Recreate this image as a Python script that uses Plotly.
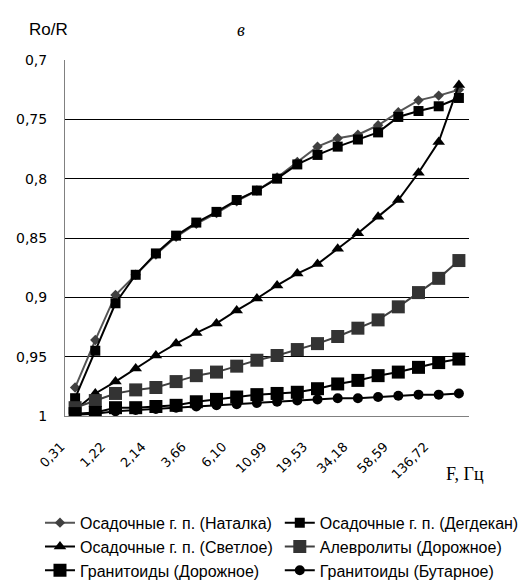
import plotly.graph_objects as go

freqs = ["0,31", "0,61", "1,22", "1,53", "2,14", "2,75", "3,66", "4,88", "6,10", "8,54",
         "10,99", "14,65", "19,53", "24,41", "34,18", "48,83", "58,59", "97,66", "136,72", "195,31"]
tick_labels = ["0,31", "1,22", "2,14", "3,66", "6,10", "10,99", "19,53", "34,18", "58,59", "136,72"]

natalka = [0.976, 0.936, 0.898, 0.881, 0.864, 0.849, 0.838, 0.829, 0.819, 0.810,
           0.799, 0.786, 0.773, 0.766, 0.763, 0.755, 0.744, 0.734, 0.730, 0.725]
degdekan = [0.985, 0.945, 0.905, 0.881, 0.863, 0.848, 0.837, 0.828, 0.818, 0.810,
            0.800, 0.788, 0.780, 0.773, 0.767, 0.761, 0.748, 0.743, 0.739, 0.732]
svetloe = [0.995, 0.981, 0.971, 0.960, 0.949, 0.939, 0.930, 0.922, 0.911, 0.901,
           0.890, 0.880, 0.872, 0.859, 0.846, 0.832, 0.818, 0.795, 0.769, 0.721]
alevrolity = [0.993, 0.987, 0.981, 0.978, 0.976, 0.971, 0.966, 0.963, 0.958, 0.953,
              0.949, 0.944, 0.939, 0.933, 0.926, 0.919, 0.908, 0.896, 0.884, 0.869]
granit_dor = [0.998, 0.997, 0.993, 0.993, 0.992, 0.991, 0.988, 0.986, 0.984, 0.982,
              0.981, 0.980, 0.977, 0.973, 0.970, 0.966, 0.963, 0.959, 0.955, 0.952]
granit_but = [0.999, 0.998, 0.996, 0.995, 0.994, 0.993, 0.992, 0.991, 0.990, 0.989,
              0.988, 0.987, 0.986, 0.985, 0.985, 0.984, 0.983, 0.982, 0.982, 0.981]

y_ticks = [0.7, 0.75, 0.8, 0.85, 0.9, 0.95, 1.0]
y_tick_labels = ["0,7", "0,75", "0,8", "0,85", "0,9", "0,95", "1"]

series = [
    ("Осадочные г. п. (Наталка)", natalka, "#555555", "#404040", "diamond", 8, "legend"),
    ("Осадочные г. п. (Дегдекан)", degdekan, "#000000", "#000000", "square", 10, "legend2"),
    ("Осадочные г. п. (Светлое)", svetloe, "#000000", "#000000", "triangle-up", 11, "legend"),
    ("Алевролиты (Дорожное)", alevrolity, "#404040", "#333333", "square", 13, "legend2"),
    ("Гранитоиды (Дорожное)", granit_dor, "#000000", "#000000", "square", 13, "legend"),
    ("Гранитоиды (Бутарное)", granit_but, "#000000", "#000000", "circle", 10, "legend2"),
]

fig = go.Figure()
for name, vals, lc, mc, sym, sz, lg in series:
    fig.add_trace(go.Scatter(
        x=freqs, y=vals, name=name, mode="lines+markers", legend=lg,
        line=dict(color=lc, width=2),
        marker=dict(symbol=sym, size=sz, color=mc, line=dict(width=0)),
    ))

legend_font = dict(family="Liberation Sans, Arial", size=16, color="#000")
fig.update_layout(
    width=522, height=580,
    margin=dict(l=65, r=53, t=60, b=164, autoexpand=False),
    paper_bgcolor="white", plot_bgcolor="white",
    showlegend=True,
    legend=dict(
        orientation="v", xref="container", yref="container",
        x=0.0766, xanchor="left", y=0.128, yanchor="top",
        font=legend_font, tracegroupgap=0, itemsizing="trace", bgcolor="rgba(0,0,0,0)",
    ),
    legend2=dict(
        orientation="v", xref="container", yref="container",
        x=0.536, xanchor="left", y=0.128, yanchor="top",
        font=legend_font, tracegroupgap=0, itemsizing="trace", bgcolor="rgba(0,0,0,0)",
    ),
    xaxis=dict(
        type="category", range=[-0.5, 19.5],
        tickvals=freqs[::2], ticktext=[t for t in tick_labels],
        tickangle=-45, showgrid=False, showline=True, linecolor="#808080", linewidth=1,
        ticks="", tickfont=dict(family="DejaVu Sans", size=13, color="#000"),
        ticklabelstandoff=17, ticklabelshift=-14,
    ),
    yaxis=dict(
        range=[1.0, 0.7], tickvals=y_ticks, ticktext=y_tick_labels,
        showgrid=True, gridcolor="#000000", gridwidth=1,
        showline=True, linecolor="#808080", linewidth=1, zeroline=False,
        ticks="", tickfont=dict(family="DejaVu Sans", size=14, color="#000"),
        ticklabelstandoff=14,
    ),
    annotations=[
        dict(text="Ro/R", xref="paper", yref="paper", x=-0.042, y=1.086, xanchor="center", yanchor="middle",
             showarrow=False, font=dict(family="Liberation Sans, Arial", size=17, color="#000")),
        dict(text="<i>в</i>", xref="paper", yref="paper", x=0.435, y=1.083, xanchor="center", yanchor="middle",
             showarrow=False, font=dict(family="Liberation Serif", size=18, color="#000")),
        dict(text="F, Гц", xref="paper", yref="paper", x=0.99, y=-0.163, xanchor="center", yanchor="middle",
             showarrow=False, font=dict(family="Liberation Serif", size=18, color="#000")),
    ],
)

fig.write_html("out.html")
